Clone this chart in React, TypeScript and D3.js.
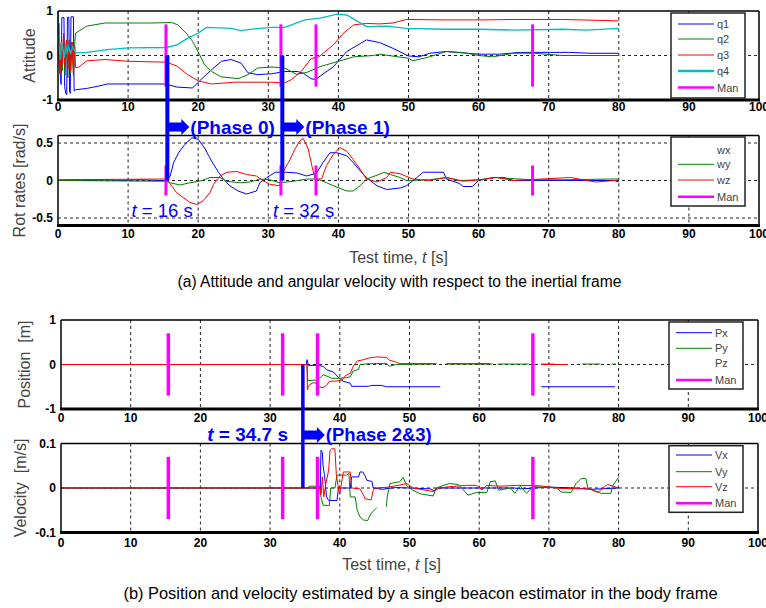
import React from 'react';
import * as d3 from 'd3';

type Pt = [number, number | null];

// ---------- data ----------
const xTickValues = [0, 10, 20, 30, 40, 50, 60, 70, 80, 90, 100];
const manTimes = [15.4, 31.8, 36.8, 67.7];
const phaseA = [15.6, 32.0];
const phaseB = 34.7;

const q1: Pt[] = [[0,0.72],[0.15,0.72],[0.2,-0.1],[0.35,-0.5],[0.45,-0.65],[0.55,0.85],[0.85,0.85],[0.95,-0.7],[1.1,-0.85],[1.25,-0.88],[1.35,0.86],[1.55,0.86],[1.65,-0.8],[1.75,-0.85],[1.85,0.87],[2.2,0.87],[2.3,-0.8],[2.5,-0.77],[4.1,-0.74],[5.7,-0.69],[7.1,-0.64],[10,-0.64],[15.5,-0.64],[15.8,-0.66],[17,-0.71],[19.2,-0.73],[20.2,-0.57],[21.9,-0.32],[23.3,-0.13],[24.7,-0.09],[26.1,-0.17],[27.1,-0.39],[28.5,-0.43],[30.5,-0.41],[32.3,-0.36],[34.2,-0.36],[35,-0.4],[36.1,-0.52],[36.7,-0.54],[39.3,-0.25],[41.2,0.09],[44,0.35],[45.9,0.29],[47.8,0.16],[50,-0.01],[51.5,-0.03],[53,0.05],[55.4,0.09],[60,0.03],[63,0.03],[66,0.07],[73,0.07],[76,0.05],[80,0.05]];
const q2: Pt[] = [[0,0.6],[0.15,0.3],[0.3,-0.4],[0.45,0.25],[0.6,-0.35],[0.8,0.4],[1.0,-0.45],[1.2,0.3],[1.4,-0.5],[1.6,0.35],[1.8,-0.4],[2.0,0.3],[2.2,-0.45],[2.4,0.3],[2.5,0.5],[4.1,0.66],[6.7,0.73],[10,0.73],[13.3,0.73],[16.2,0.74],[17.1,0.69],[18.3,0.5],[19.2,0.32],[20.2,0.02],[20.9,-0.21],[21.9,-0.36],[23.3,-0.48],[25.7,-0.52],[27.1,-0.43],[28.5,-0.28],[30.5,-0.26],[32.3,-0.28],[34,-0.42],[35.5,-0.38],[37.4,-0.25],[39.8,-0.14],[42.2,-0.03],[45,0.0],[45.9,0.03],[48,-0.02],[50,-0.06],[50.6,-0.12],[53,-0.03],[55.4,0.09],[58,0.06],[60,0.0],[62,-0.03],[65,0.05],[68,0.05],[72,0.0],[75.4,0.0],[80,0.0]];
const q3: Pt[] = [[0,0.1],[0.15,-0.1],[0.3,-0.4],[0.45,0.3],[0.6,-0.2],[0.8,0.5],[1.0,-0.25],[1.2,0.35],[1.4,-0.3],[1.6,0.3],[1.8,-0.35],[2.0,0.3],[2.2,-0.4],[2.4,0.2],[2.5,-0.27],[3.0,-0.26],[4.1,-0.12],[6.7,-0.09],[10,-0.13],[15.5,-0.15],[17,-0.24],[18.5,-0.43],[20,-0.57],[21.9,-0.64],[25.2,-0.6],[30.5,-0.6],[32.3,-0.62],[33.3,-0.54],[34.7,-0.36],[36.1,-0.07],[37.2,-0.03],[39.3,0.24],[40.7,0.5],[42.2,0.69],[44,0.72],[45.9,0.71],[47.8,0.73],[49.7,0.81],[55.4,0.8],[60.5,0.8],[65.2,0.81],[72,0.81],[79.5,0.78],[80,0.78]];
const q4: Pt[] = [[0,1.0],[0.1,0.5],[0.2,0.1],[0.35,-0.1],[0.5,0.3],[0.7,0.15],[0.9,-0.05],[1.1,0.25],[1.3,0.05],[1.5,0.2],[1.8,0.05],[2.1,0.2],[2.5,0.06],[4.1,0.07],[7.1,0.13],[10,0.17],[15.5,0.18],[17,0.24],[18.5,0.39],[20,0.5],[21.2,0.63],[24.7,0.61],[26.1,0.56],[28,0.6],[30.5,0.63],[32.3,0.63],[33.3,0.69],[35.2,0.8],[37.4,0.84],[39.8,0.93],[41.2,0.91],[42.4,0.8],[44,0.65],[46.9,0.66],[49.7,0.61],[55.4,0.59],[60,0.59],[65.2,0.57],[72,0.59],[75.4,0.57],[80,0.61]];

const wx: Pt[] = [[0,0],[3,0.01],[4,0],[7,0.01],[9,0],[12,0.01],[14,0],[15.5,0],[16,0.06],[16.5,0.24],[17.2,0.37],[18.1,0.48],[19.1,0.57],[20,0.55],[21,0.42],[21.9,0.26],[22.9,0.11],[23.6,0.02],[24.5,-0.07],[25.7,-0.14],[26.9,-0.18],[28.3,-0.14],[28.8,-0.03],[29.8,0.04],[31,0.11],[32.6,0.11],[34.1,0.1],[35.5,0.06],[36.9,0.1],[37.8,0.24],[38.8,0.37],[39.8,0.37],[41.2,0.33],[42.1,0.24],[43.1,0.13],[44,0.04],[45.5,-0.07],[46.9,-0.12],[48.8,-0.1],[49.7,-0.07],[51.2,0.04],[52.1,0.11],[55,0.11],[55.4,0.02],[57.3,-0.04],[57.8,-0.08],[59.1,-0.08],[60,0],[62.2,0.04],[63.6,0.04],[65,0],[72,0],[79.4,0],[80,-0.02]];
const wy: Pt[] = [[0,0],[15.5,-0.01],[16,-0.03],[17.4,-0.06],[18.8,-0.03],[20.2,-0.01],[21.7,0.04],[23.1,0.04],[24,-0.01],[26,-0.03],[27.4,-0.02],[28.8,0.02],[30.2,0.01],[31.6,-0.03],[33.6,-0.01],[35.5,0.02],[37,0.02],[38.3,-0.03],[39.8,-0.09],[41.2,-0.14],[42.1,-0.14],[43.1,-0.07],[44,0.02],[45.5,0.07],[46.5,0.11],[47.4,0.08],[48.8,0.04],[49.7,0],[53,0.01],[55.4,0.04],[57.3,0],[60.2,0.01],[62.2,0.04],[67.4,0.01],[72,0.01],[79.4,0.02],[80,0.02]];
const wz: Pt[] = [[0,0.01],[15.5,0.02],[16.2,-0.07],[16.9,-0.16],[17.9,-0.23],[18.8,-0.29],[19.8,-0.32],[20.7,-0.27],[21.7,-0.16],[22.2,-0.05],[23.1,0.06],[24.1,0.11],[25.5,0.12],[26.9,0.08],[28.3,0.06],[29.2,0],[30.2,-0.05],[31.6,-0.07],[32.1,0.11],[33.1,0.28],[33.8,0.42],[34.5,0.53],[35,0.56],[35.7,0.42],[36.2,0.2],[36.7,0.02],[37.6,0.02],[38.3,0.2],[39.3,0.35],[40.2,0.44],[41.2,0.39],[42.1,0.28],[43.1,0.15],[44,0.02],[45.5,-0.02],[46.9,0.04],[47.4,0.11],[48.8,0.09],[50.6,0.02],[53,0],[55.4,0.04],[57.8,-0.01],[60.2,0.01],[62.6,0.04],[65,0],[73.1,0.04],[75.4,0],[76.8,-0.02],[79.4,0],[80,0.01]];

const px: Pt[] = [[0,0],[35.2,0],[35.3,0.11],[35.5,-0.02],[36.7,-0.02],[37.6,-0.04],[38.1,-0.12],[39.1,-0.17],[39.8,-0.29],[40.5,-0.38],[41.5,-0.42],[41.7,-0.49],[44.1,-0.49],[44.6,-0.47],[46,-0.47],[46.7,-0.5],[54.4,-0.5],[54.5,null],[68.9,-0.5],[79.5,-0.5]];
const py: Pt[] = [[0,0],[35.3,0],[35.4,-0.36],[36.7,-0.35],[37.4,-0.27],[37.6,-0.23],[38.3,-0.27],[38.8,-0.31],[40,-0.31],[40.8,-0.3],[41.5,-0.28],[41.9,-0.15],[42.7,-0.11],[42.9,0.0],[44.3,0.02],[46.7,0.02],[47.1,-0.04],[48.1,0.0],[53.3,0.01],[54,null],[55.3,0.01],[61.9,0.01],[62.2,null],[62.6,0.01],[67.1,0.01],[68,null],[68.9,0.01],[70.8,0.01],[72,null],[74.8,0.01],[77.4,0.01],[78,null],[79,0.01],[79.6,0.01]];
const pz: Pt[] = [[0,0],[35.3,0],[35.35,-0.57],[35.5,-0.49],[35.7,-0.45],[36.2,-0.41],[36.6,-0.42],[37,-0.5],[37.6,-0.52],[38.1,-0.47],[38.5,-0.38],[39.5,-0.37],[40.3,-0.35],[40.8,-0.25],[41.5,-0.2],[41.9,-0.05],[42.5,0.08],[43.2,0.1],[44.3,0.15],[45.3,0.17],[46.7,0.16],[47.1,0.1],[48.1,0.05],[48.6,0.02],[53.9,0.02],[54.5,null],[55.3,0.02],[61.6,0.02],[62,null],[68.9,0.0],[72.6,0.0]];

const vx: Pt[] = [[0,0],[37.2,0],[37.3,0.085],[37.5,0.08],[37.6,0.05],[37.8,0.03],[38.1,-0.02],[38.4,-0.028],[39.6,-0.028],[39.8,0],[41.5,0],[41.7,0.025],[42.7,0.025],[42.9,0.036],[43.3,0.036],[43.6,0.028],[43.9,0.017],[44.6,0.015],[44.8,0],[46,-0.003],[48,0.001],[50,0.0],[53,-0.002],[53.5,-0.006],[54,0],[60,0.0],[65,0.0],[66,-0.002],[70,0.002],[74,0],[76,-0.003],[80,0]];
const vy: Pt[] = [[0,0],[35.2,0],[35.7,0.004],[37.1,0.004],[37.3,-0.02],[37.6,-0.039],[38.5,-0.039],[38.7,0.0],[39.3,0.0],[39.6,0.029],[41,0.029],[41.3,0.033],[41.5,-0.02],[42.2,-0.02],[42.5,-0.05],[42.9,-0.065],[43.4,-0.072],[44,-0.073],[44.5,-0.057],[45.3,-0.044],[45.5,null],[46.7,-0.042],[46.8,-0.02],[47.2,0.01],[48.6,0.014],[49.1,0.024],[49.6,0.005],[50.5,-0.005],[51.5,-0.013],[53.4,-0.018],[53.8,0.0],[55.7,0.01],[57,0.008],[58.4,-0.016],[59.6,-0.01],[61.1,-0.01],[61.6,0.014],[62.3,0.016],[62.8,-0.005],[64.5,0],[65.1,-0.012],[65.9,0.004],[66.8,-0.012],[67.7,0.003],[71.2,0],[71.7,-0.009],[73.2,-0.01],[73.9,0.01],[74.6,0.021],[75.3,0.021],[75.6,0],[77.5,-0.012],[78.9,-0.012],[79.1,0.004],[80,0.024]];
const vz: Pt[] = [[0,0],[37.2,0],[37.3,-0.015],[37.5,0.025],[37.7,-0.02],[38,0.01],[38.4,0.04],[38.6,0.085],[38.8,0.088],[39.3,0.088],[39.5,0.03],[39.8,0],[40,-0.013],[40.5,0.036],[41.5,0.036],[41.7,0.0],[42.9,-0.002],[43.4,-0.016],[43.6,-0.024],[44.5,-0.027],[44.8,-0.005],[45,0],[47,0.002],[49.6,0.01],[50.5,0],[53.4,-0.008],[54.3,0],[55.7,0.003],[58.2,0.006],[59.6,0.006],[60.4,-0.004],[61.1,0.006],[63,0.004],[65.4,0.006],[68.7,0.005],[71.7,-0.001],[75.8,-0.002],[77,-0.01],[78.4,0.008],[80,0]];

// ---------- styles ----------
const BLUE = '#0000ff', GREEN = '#008000', RED = '#ff0000', CYAN = '#00bfbf', MAG = '#ff00ff';
const FONT = 'Arial, "Liberation Sans", Helvetica, sans-serif';

type Series = { data: Pt[]; color: string; width: number };
type LegendItem = { label: string; color: string; width: number };

type PanelProps = {
  x0: number; x1: number; top: number; bottom: number;
  yDomain: [number, number]; yTicks: number[]; yTickLabels: string[];
  hGrid: number[]; series: Series[]; manHalf: number; manWidth: number;
  legend: { x: number; y: number; w: number; h: number; rows: number[]; items: LegendItem[] };
  ylabel: string; ylabelX: number; tickLabelDy: number;
};

function Panel(p: PanelProps) {
  const x = d3.scaleLinear().domain([0, 100]).range([p.x0, p.x1]);
  const y = d3.scaleLinear().domain(p.yDomain).range([p.bottom, p.top]);
  const line = d3.line<Pt>().defined(d => d[1] !== null).x(d => x(d[0])).y(d => y(d[1] as number));
  const midY = (p.top + p.bottom) / 2;
  return (
    <g>
      <rect x={p.x0} y={p.top} width={p.x1 - p.x0} height={p.bottom - p.top} fill="#fff" />
      {xTickValues.filter(t => t > 0 && t < 100).map(t => (
        <line key={'vg' + t} x1={x(t)} x2={x(t)} y1={p.top} y2={p.bottom} stroke="#222" strokeWidth={1} strokeDasharray="3,3" />
      ))}
      {p.hGrid.map(v => (
        <line key={'hg' + v} x1={p.x0} x2={p.x1} y1={y(v)} y2={y(v)} stroke="#222" strokeWidth={1} strokeDasharray="3,3" />
      ))}
      {p.series.map((s, i) => (
        <path key={'s' + i} d={line(s.data) || ''} fill="none" stroke={s.color} strokeWidth={s.width} />
      ))}
      {manTimes.map((t, i) => (
        <line key={'m' + i} x1={x(t)} x2={x(t)} y1={y(p.manHalf)} y2={y(-p.manHalf)} stroke={MAG} strokeWidth={p.manWidth} />
      ))}
      {/* axes box */}
      <line x1={p.x0} x2={p.x1} y1={p.top} y2={p.top} stroke="#000" strokeWidth={1.5} />
      <line x1={p.x0} x2={p.x0} y1={p.top} y2={p.bottom} stroke="#000" strokeWidth={1.5} />
      <line x1={p.x1} x2={p.x1} y1={p.top} y2={p.bottom} stroke="#000" strokeWidth={1.5} />
      <line x1={p.x0 - 1} x2={p.x1 + 1} y1={p.bottom} y2={p.bottom} stroke="#000" strokeWidth={3} />
      {xTickValues.map(t => (
        <text key={'xt' + t} x={x(t)} y={p.bottom + p.tickLabelDy} textAnchor="middle" fontSize={12} fontWeight="bold" fontFamily={FONT}>{t}</text>
      ))}
      {p.yTicks.map((v, i) => (
        <text key={'yt' + v} x={p.x0 - 5} y={y(v) + 4} textAnchor="end" fontSize={12} fontWeight="bold" fontFamily={FONT}>{p.yTickLabels[i]}</text>
      ))}
      <text transform={`translate(${p.ylabelX},${midY}) rotate(-90)`} textAnchor="middle" fontSize={16} fill="#444" fontFamily={FONT} style={{ whiteSpace: 'pre' }}>{p.ylabel}</text>
      <g>
        <rect x={p.legend.x} y={p.legend.y} width={p.legend.w} height={p.legend.h} fill="#fff" stroke="#222" strokeWidth={1.5} />
        {p.legend.items.map((it, i) => (
          <g key={'lg' + i}>
            {it.width > 0 && (
              <line x1={p.legend.x + 7} x2={p.legend.x + 43} y1={p.legend.y + p.legend.rows[i]} y2={p.legend.y + p.legend.rows[i]} stroke={it.color} strokeWidth={it.width} />
            )}
            <text x={p.legend.x + 46} y={p.legend.y + p.legend.rows[i] + 4} fontSize={11} fill="#444" fontFamily={FONT}>{it.label}</text>
          </g>
        ))}
      </g>
    </g>
  );
}

function Arrow({ xs, yc }: { xs: number; yc: number }) {
  const d = `M${xs},${yc - 4.5} L${xs + 13},${yc - 4.5} L${xs + 13},${yc - 8} L${xs + 21},${yc} L${xs + 13},${yc + 8} L${xs + 13},${yc + 4.5} L${xs},${yc + 4.5} Z`;
  return <path d={d} fill={BLUE} />;
}

export default function App() {
  const xA = d3.scaleLinear().domain([0, 100]).range([58, 759]);
  const xB = d3.scaleLinear().domain([0, 100]).range([61, 758]);
  const p1 = { top: 11, bottom: 100 };
  const p2 = { top: 135.5, bottom: 225.5 };
  const p3 = { top: 320, bottom: 409 };
  const p4 = { top: 443.5, bottom: 532.5 };
  const y1 = d3.scaleLinear().domain([-1, 1]).range([p1.bottom, p1.top]);
  const y2 = d3.scaleLinear().domain([-0.6, 0.6]).range([p2.bottom, p2.top]);
  const y3 = d3.scaleLinear().domain([-1, 1]).range([p3.bottom, p3.top]);
  const y4 = d3.scaleLinear().domain([-0.1, 0.1]).range([p4.bottom, p4.top]);

  return (
    <svg width={766} height={608} viewBox="0 0 766 608" style={{ position: 'absolute', left: 0, top: 0, background: '#fff' }} fontFamily={FONT}>
      <rect x={0} y={0} width={766} height={608} fill="#fff" />
      <Panel x0={58} x1={759} top={p1.top} bottom={p1.bottom} yDomain={[-1, 1]} yTicks={[1, 0, -1]} yTickLabels={['1', '0', '-1']}
        hGrid={[0]} manHalf={0.7} manWidth={3} tickLabelDy={11}
        series={[{ data: q1, color: BLUE, width: 1 }, { data: q2, color: GREEN, width: 1 }, { data: q3, color: RED, width: 1 }, { data: q4, color: CYAN, width: 1.3 }]}
        legend={{ x: 671, y: 13, w: 74, h: 85, rows: [11, 26, 42, 58, 74.5], items: [
          { label: 'q1', color: BLUE, width: 1 }, { label: 'q2', color: GREEN, width: 1 }, { label: 'q3', color: RED, width: 1 }, { label: 'q4', color: CYAN, width: 2.5 }, { label: 'Man', color: MAG, width: 2.5 }] }}
        ylabel="Attitude" ylabelX={35} />
      <Panel x0={58} x1={759} top={p2.top} bottom={p2.bottom} yDomain={[-0.6, 0.6]} yTicks={[0.5, 0, -0.5]} yTickLabels={['0.5', '0', '-0.5']}
        hGrid={[0.5, 0, -0.5]} manHalf={0.2} manWidth={3} tickLabelDy={12}
        series={[{ data: wx, color: BLUE, width: 1 }, { data: wy, color: GREEN, width: 1 }, { data: wz, color: RED, width: 1 }]}
        legend={{ x: 671, y: 137, w: 74, h: 69, rows: [13, 27.3, 43, 59.7], items: [
          { label: 'wx', color: BLUE, width: 0 }, { label: 'wy', color: GREEN, width: 1 }, { label: 'wz', color: RED, width: 1 }, { label: 'Man', color: MAG, width: 2.5 }] }}
        ylabel="Rot rates [rad/s]" ylabelX={25} />
      <Panel x0={61} x1={758} top={p3.top} bottom={p3.bottom} yDomain={[-1, 1]} yTicks={[1, 0, -1]} yTickLabels={['1', '0', '-1']}
        hGrid={[0]} manHalf={0.7} manWidth={3.5} tickLabelDy={13}
        series={[{ data: px, color: BLUE, width: 1 }, { data: py, color: GREEN, width: 1 }, { data: pz, color: RED, width: 1 }]}
        legend={{ x: 669, y: 322, w: 74, h: 67, rows: [10.7, 26.3, 41.3, 58], items: [
          { label: 'Px', color: BLUE, width: 1 }, { label: 'Py', color: GREEN, width: 1 }, { label: 'Pz', color: RED, width: 0 }, { label: 'Man', color: MAG, width: 2.5 }] }}
        ylabel="Position  [m]" ylabelX={30} />
      <Panel x0={61} x1={758} top={p4.top} bottom={p4.bottom} yDomain={[-0.1, 0.1]} yTicks={[0.1, 0, -0.1]} yTickLabels={['0.1', '0', '-0.1']}
        hGrid={[0]} manHalf={0.07} manWidth={3.5} tickLabelDy={14}
        series={[{ data: vx, color: BLUE, width: 1 }, { data: vy, color: GREEN, width: 1 }, { data: vz, color: RED, width: 1 }]}
        legend={{ x: 669, y: 445.7, w: 74, h: 66.6, rows: [9.3, 26, 41, 57.6], items: [
          { label: 'Vx', color: BLUE, width: 1 }, { label: 'Vy', color: GREEN, width: 1 }, { label: 'Vz', color: RED, width: 1 }, { label: 'Man', color: MAG, width: 2.5 }] }}
        ylabel="Velocity  [m/s]" ylabelX={26} />

      {/* phase annotations (a) */}
      {phaseA.map((t, i) => (
        <g key={'pa' + i}>
          <line x1={xA(t)} x2={xA(t)} y1={y1(0)} y2={y2(0)} stroke={BLUE} strokeWidth={4} />
          <Arrow xs={xA(t) + 1} yc={127} />
          <text x={xA(t) + 23} y={134} fontSize={19} fontWeight="bold" fill={BLUE}>{`(Phase ${i})`}</text>
        </g>
      ))}
      <text x={131.5} y={216.5} fontSize={18.5} fill={BLUE}><tspan fontStyle="italic">t</tspan> = 16 s</text>
      <text x={273} y={216.5} fontSize={18.5} fill={BLUE}><tspan fontStyle="italic">t</tspan> = 32 s</text>

      {/* phase annotation (b) */}
      <line x1={xB(phaseB)} x2={xB(phaseB)} y1={y3(0)} y2={y4(0)} stroke={BLUE} strokeWidth={3.5} />
      <Arrow xs={xB(phaseB) + 1} yc={435} />
      <text x={xB(phaseB) + 23} y={441} fontSize={18.5} fontWeight="bold" fill={BLUE}>(Phase 2&amp;3)</text>
      <text x={288} y={441} textAnchor="end" fontSize={19} fontWeight="bold" fill={BLUE}><tspan fontStyle="italic">t</tspan> = 34.7 s</text>

      {/* x labels and captions */}
      <text x={398.5} y={263} textAnchor="middle" fontSize={16} fill="#444">Test time, <tspan fontStyle="italic">t</tspan> [s]</text>
      <text x={399.5} y={287} textAnchor="middle" fontSize={15.6} fill="#000">(a) Attitude and angular velocity with respect to the inertial frame</text>
      <text x={391.5} y={570} textAnchor="middle" fontSize={16} fill="#444">Test time, <tspan fontStyle="italic">t</tspan> [s]</text>
      <text x={420.5} y={599} textAnchor="middle" fontSize={16.4} fill="#000">(b) Position and velocity estimated by a single beacon estimator in the body frame</text>
    </svg>
  );
}
